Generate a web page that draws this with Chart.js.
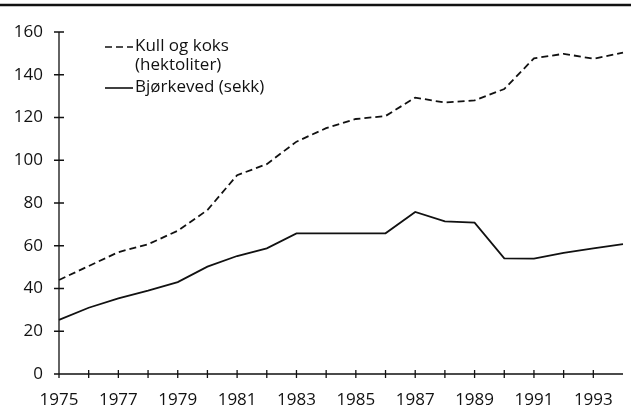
<!DOCTYPE html>
<html>
<head>
<meta charset="utf-8">
<script src="https://cdn.jsdelivr.net/npm/chart.js@4"></script>
<style>
  html, body { margin: 0; padding: 0; background: #fff; }
  #wrap { width: 631px; height: 414px; }
</style>
</head>
<body>
<div id="wrap"><canvas id="fuelChart" width="631" height="414"></canvas></div>
<script>
const years = ['1975','1976','1977','1978','1979','1980','1981','1982','1983','1984',
               '1985','1986','1987','1988','1989','1990','1991','1992','1993','1994'];
const kullOgKoks = [44, 50.5, 57, 60.7, 67, 76.7, 93, 98.2, 108.7, 115,
                    119.3, 120.7, 129.3, 127, 128, 133.3, 147.7, 149.8, 147.5, 150.3];
const bjorkeved = [25.3, 31, 35.4, 39, 43, 50.2, 55.2, 58.8, 65.8, 65.8,
                   65.8, 65.8, 75.8, 71.4, 70.8, 54.1, 54, 56.7, 58.8, 60.8];
const legendLines = [['Kull og koks', '(hektoliter)'], ['Bjørkeved (sekk)']];

const FONT = '"Open Sans", "DejaVu Sans", sans-serif';

// axes with ticks crossing the line, the legend and the rule at the top
const decorations = {
    id: 'decorations',
    afterDraw(chart) {
        const ctx = chart.ctx;
        const x = chart.scales.x, y = chart.scales.y;
        const area = chart.chartArea;
        ctx.save();
        ctx.strokeStyle = '#111';
        ctx.lineWidth = 2.5;
        ctx.beginPath();
        ctx.moveTo(0, 5);
        ctx.lineTo(chart.width, 5);
        ctx.stroke();

        ctx.lineWidth = 1.3;
        ctx.beginPath();
        ctx.moveTo(area.left, area.top);
        ctx.lineTo(area.left, area.bottom);
        ctx.lineTo(area.right, area.bottom);
        y.ticks.forEach((t, i) => {
            const py = y.getPixelForTick(i);
            ctx.moveTo(area.left - 5, py);
            ctx.lineTo(area.left + 5, py);
        });
        x.ticks.forEach((t, i) => {
            if (i === x.ticks.length - 1) return;
            const px = x.getPixelForTick(i);
            ctx.moveTo(px, area.bottom - 4);
            ctx.lineTo(px, area.bottom + 4);
        });
        ctx.stroke();

        // legend
        ctx.fillStyle = '#111';
        ctx.font = '17px ' + FONT;
        ctx.textBaseline = 'middle';
        const rows = [[46, 65], [87]];
        chart.data.datasets.forEach((ds, i) => {
            const ly = rows[i][0];
            ctx.setLineDash(ds.borderDash || []);
            ctx.lineWidth = 1.6;
            ctx.beginPath();
            ctx.moveTo(105, ly + 1);
            ctx.lineTo(133, ly + 1);
            ctx.stroke();
            ctx.setLineDash([]);
            legendLines[i].forEach((txt, j) => ctx.fillText(txt, 135, rows[i][j]));
        });
        ctx.restore();
    }
};

new Chart(document.getElementById('fuelChart'), {
    type: 'line',
    data: {
        labels: years,
        datasets: [{
            label: 'Kull og koks (hektoliter)',
            data: kullOgKoks,
            borderColor: '#111',
            borderWidth: 1.8,
            borderDash: [7, 4],
            pointRadius: 0,
            tension: 0
        }, {
            label: 'Bjørkeved (sekk)',
            data: bjorkeved,
            borderColor: '#111',
            borderWidth: 1.8,
            pointRadius: 0,
            tension: 0
        }]
    },
    options: {
        responsive: false,
        animation: false,
        layout: { padding: { top: 32, right: 0, left: 0, bottom: 0 } },
        plugins: { legend: { display: false }, tooltip: { enabled: false } },
        scales: {
            x: {
                offset: false,
                grid: { display: false },
                border: { display: false },
                ticks: {
                    autoSkip: false,
                    maxRotation: 0,
                    padding: 8,
                    color: '#111',
                    font: { family: FONT, size: 17 },
                    callback: (v, i) => (i % 2 === 0 ? years[i] : '')
                },
                afterFit: s => { s.height = 40; }
            },
            y: {
                min: 0,
                max: 160,
                grid: { display: false },
                border: { display: false },
                ticks: {
                    stepSize: 20,
                    padding: 8,
                    color: '#111',
                    font: { family: FONT, size: 17 }
                },
                afterFit: s => { s.width = 59; }
            }
        }
    },
    plugins: [decorations]
});
</script>
</body>
</html>
